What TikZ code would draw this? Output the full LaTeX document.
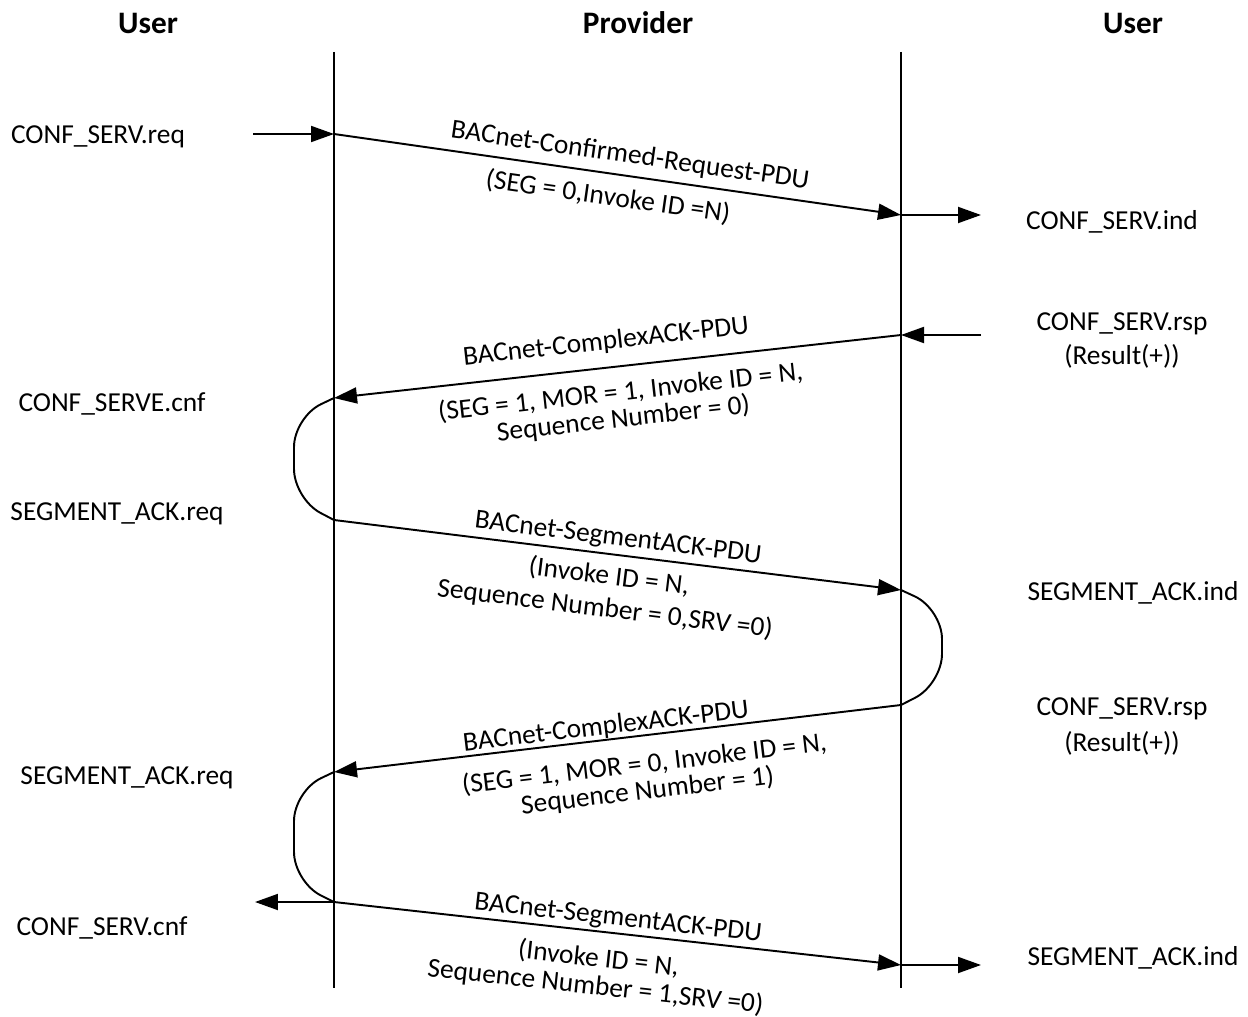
\documentclass[tikz,border=0pt]{standalone}
\usepackage{fontspec}
\setmainfont{Carlito}
\usetikzlibrary{arrows.meta}
\begin{document}
\begin{tikzpicture}[x=0.02cm,y=-0.02cm,
  life/.style={line width=1.1pt},
  msg/.style={line width=1.1pt,-{Triangle[length=4.6mm,width=3.2mm]}},
  loopline/.style={line width=1.1pt,rounded corners=0.6cm},
  hdr/.style={font=\fontsize{17.8}{21}\selectfont\bfseries},
  lbl/.style={font=\fontsize{15.6}{18}\selectfont,inner sep=0pt,align=center},
]
\useasboundingbox (0,0) rectangle (1248,1017);
% headers
\node[hdr] (h1) at (148,23) {User};
\node[hdr] (h2) at (638,23) {Provider};
\node[hdr] (h3) at (1133,23) {User};
% lifelines
\coordinate (Lt) at (334,52); \coordinate (Lb) at (334,988);
\coordinate (Rt) at (901,52); \coordinate (Rb) at (901,988);
\draw[life] (Lt) -- (Lb);
\draw[life] (Rt) -- (Rb);
% message points
\coordinate (a0) at (253,134); \coordinate (a1) at (334,134);
\coordinate (a2) at (901,215); \coordinate (a3) at (981,215);
\coordinate (b0) at (981,335); \coordinate (b1) at (901,335);
\coordinate (b2) at (334,398);
\coordinate (c1) at (334,520); \coordinate (c2) at (901,590);
\coordinate (d1) at (901,705); \coordinate (d2) at (334,772);
\coordinate (e1) at (334,902); \coordinate (e0) at (255,902);
\coordinate (e2) at (901,965); \coordinate (e3) at (981,965);
% side texts
\node[lbl] (t1) at (98,137) {CONF\_SERV.req};
\node[lbl] (t2) at (1112,222) {CONF\_SERV.ind};
\node[lbl] (t3) at (1122,324) {CONF\_SERV.rsp};
\node[lbl] (t3b) at (1122,356) {(Result(+))};
\node[lbl] (t4) at (112,404) {CONF\_SERVE.cnf};
\node[lbl] (t5) at (117,514) {SEGMENT\_ACK.req};
\node[lbl] (t6) at (1133,593) {SEGMENT\_ACK.ind};
\node[lbl] (t7) at (1122,709) {CONF\_SERV.rsp};
\node[lbl] (t7b) at (1122,743) {(Result(+))};
\node[lbl] (t8) at (127,778) {SEGMENT\_ACK.req};
\node[lbl] (t9) at (102,928) {CONF\_SERV.cnf};
\node[lbl] (t10) at (1133,958) {SEGMENT\_ACK.ind};
% messages
\draw[msg] (a0) -- (a1);
\draw[msg] (a1) -- (a2);
\draw[msg] (a2) -- (a3);
\draw[msg] (b0) -- (b1);
\draw[msg] (b1) -- (b2);
\draw[loopline] (b2) -- (294,417) -- (294,499) -- (c1);
\draw[msg] (c1) -- (c2);
\draw[loopline] (c2) -- (942,609) -- (942,684) -- (d1);
\draw[msg] (d1) -- (d2);
\draw[loopline] (d2) -- (294,791) -- (294,882) -- (e1);
\draw[msg] (e1) -- (e0);
\draw[msg] (e1) -- (e2);
\draw[msg] (e2) -- (e3);
% message labels
\node[lbl,rotate=-8.13] (m1a) at (630,156) {BACnet-Confirmed-Request-PDU};
\node[lbl,rotate=-8.13] (m1b) at (608,197) {(SEG = 0,Invoke ID =N)};
\node[lbl,rotate=6.34] (m2a) at (606,342) {BACnet-ComplexACK-PDU};
\node[lbl,rotate=6.34,font=\fontsize{15.6}{15.3}\selectfont] (m2b) at (622,406)
  {(SEG = 1, MOR = 1, Invoke ID = N,\\Sequence Number = 0)};
\node[lbl,rotate=-7.04] (m3a) at (618,539) {BACnet-SegmentACK-PDU};
\node[lbl,rotate=-7.04,font=\fontsize{15.6}{18.5}\selectfont] (m3b) at (607,593)
  {(Invoke ID = N,\\Sequence Number = 0,SRV =0)};
\node[lbl,rotate=6.74] (m4a) at (606,727) {BACnet-ComplexACK-PDU};
\node[lbl,rotate=6.74,font=\fontsize{15.6}{15.3}\selectfont] (m4b) at (646,778)
  {(SEG = 1, MOR = 0, Invoke ID = N,\\Sequence Number = 1)};
\node[lbl,rotate=-6.34] (m5a) at (618,919) {BACnet-SegmentACK-PDU};
\node[lbl,rotate=-6.34,font=\fontsize{15.6}{16}\selectfont] (m5b) at (597,973)
  {(Invoke ID = N,\\Sequence Number = 1,SRV =0)};
\end{tikzpicture}
\end{document}
